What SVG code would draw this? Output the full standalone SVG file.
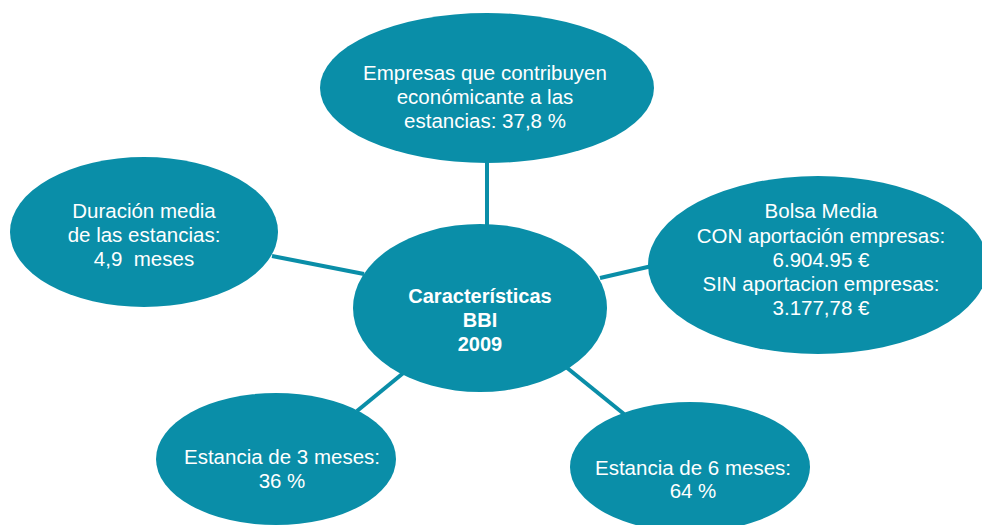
<svg xmlns="http://www.w3.org/2000/svg" width="982" height="525" viewBox="0 0 982 525">
<style>
.n{fill:#0a8ea8}
.c{stroke:#0a8ea8;stroke-width:4;fill:none}
text{fill:#ffffff;font-family:"Liberation Sans",Arial,sans-serif;font-size:20.5px;text-anchor:middle;white-space:pre}
.b{font-weight:bold;font-size:20px}
</style>
<rect width="982" height="525" fill="#ffffff"/>
<g id="connectors">
<line class="c" x1="487" y1="160" x2="487" y2="228"/>
<line class="c" x1="272" y1="256" x2="364" y2="274"/>
<line class="c" x1="600" y1="278" x2="652" y2="266"/>
<line class="c" x1="357" y1="411" x2="407" y2="370"/>
<line class="c" x1="566" y1="367" x2="624" y2="414"/>
</g>
<g id="top">
<ellipse class="n" cx="487" cy="88" rx="167" ry="75"/>
<text x="485" y="80">Empresas que contribuyen</text>
<text x="485" y="104">económicante a las</text>
<text x="485" y="128">estancias: 37,8 %</text>
</g>
<g id="left">
<ellipse class="n" cx="144" cy="232" rx="134" ry="75"/>
<text x="144" y="218">Duración media</text>
<text x="144" y="242">de las estancias:</text>
<text x="144" y="266" xml:space="preserve">4,9  meses</text>
</g>
<g id="right">
<ellipse class="n" cx="818" cy="265" rx="170" ry="89"/>
<text x="821" y="218">Bolsa Media</text>
<text x="821" y="243">CON aportación empresas:</text>
<text x="821" y="267">6.904.95 €</text>
<text x="821" y="291">SIN aportacion empresas:</text>
<text x="821" y="315">3.177,78 €</text>
</g>
<g id="center">
<ellipse class="n" cx="480" cy="308" rx="127" ry="84"/>
<text class="b" x="480" y="303">Características</text>
<text class="b" x="480" y="327">BBI</text>
<text class="b" x="480" y="351">2009</text>
</g>
<g id="bottom-left">
<ellipse class="n" cx="276" cy="459" rx="120" ry="66"/>
<text x="282" y="464">Estancia de 3 meses:</text>
<text x="282" y="488">36 %</text>
</g>
<g id="bottom-right">
<ellipse class="n" cx="690" cy="467" rx="120" ry="65"/>
<text x="693" y="475">Estancia de 6 meses:</text>
<text x="693" y="498">64 %</text>
</g>
</svg>
